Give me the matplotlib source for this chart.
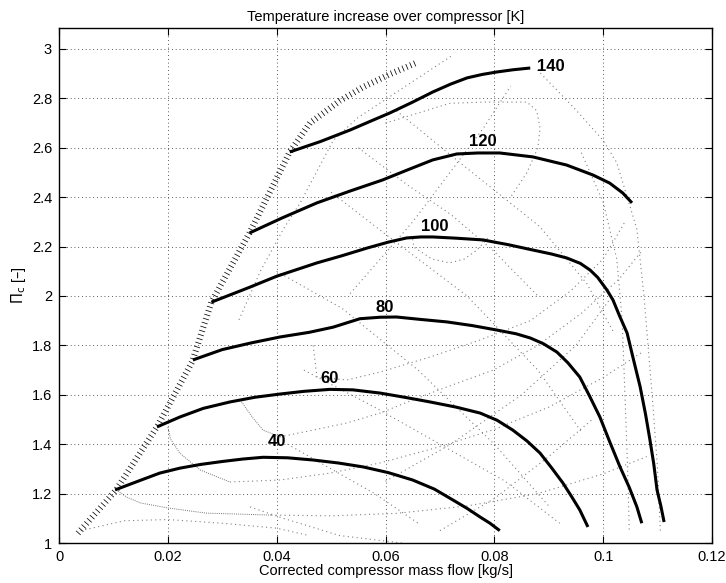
import matplotlib
matplotlib.use("Agg")
import matplotlib.pyplot as plt

plt.rcParams['font.family'] = ['Liberation Sans', 'DejaVu Sans']

# ---- speed lines (temperature increase [K]) ----
speed_labels = ["40", "60", "80", "100", "120", "140"]
label_pos_x = [0.0400, 0.0498, 0.0599, 0.0690, 0.0779, 0.0903]
label_pos_y = [1.409, 1.668, 1.955, 2.283, 2.625, 2.930]

s40_x = [0.0103, 0.0145, 0.0185, 0.0222, 0.026, 0.030, 0.0338, 0.0375, 0.042, 0.0467, 0.0513, 0.0559, 0.0605, 0.065, 0.069, 0.0724, 0.075, 0.0774, 0.0792, 0.081]
s40_y = [1.215, 1.250, 1.283, 1.303, 1.318, 1.330, 1.340, 1.347, 1.345, 1.336, 1.324, 1.308, 1.285, 1.255, 1.218, 1.174, 1.140, 1.105, 1.080, 1.050]
s60_x = [0.018, 0.0222, 0.0265, 0.0314, 0.036, 0.0406, 0.045, 0.0498, 0.054, 0.059, 0.0635, 0.0682, 0.073, 0.0774, 0.0805, 0.0834, 0.086, 0.0884, 0.0905, 0.0926, 0.0942, 0.0957, 0.0972]
s60_y = [1.470, 1.510, 1.545, 1.571, 1.590, 1.603, 1.614, 1.622, 1.620, 1.607, 1.590, 1.571, 1.550, 1.526, 1.497, 1.457, 1.413, 1.364, 1.305, 1.243, 1.188, 1.134, 1.065]
s80_x = [0.0246, 0.030, 0.0353, 0.0406, 0.046, 0.0504, 0.0553, 0.059, 0.062, 0.0665, 0.0713, 0.076, 0.0805, 0.084, 0.0866, 0.089, 0.0915, 0.0935, 0.0957, 0.0975, 0.0994, 0.1012, 0.1031, 0.1048, 0.1062, 0.1071]
s80_y = [1.741, 1.783, 1.810, 1.834, 1.853, 1.874, 1.908, 1.914, 1.915, 1.905, 1.895, 1.880, 1.862, 1.847, 1.830, 1.807, 1.773, 1.730, 1.672, 1.595, 1.510, 1.410, 1.308, 1.225, 1.146, 1.080]
s100_x = [0.028, 0.0315, 0.0351, 0.040, 0.0474, 0.052, 0.0566, 0.0605, 0.0639, 0.0665, 0.0687, 0.073, 0.0779, 0.0825, 0.0871, 0.0905, 0.0933, 0.0958, 0.0976, 0.099, 0.1007, 0.1018, 0.103, 0.1044, 0.1056, 0.1068, 0.1078, 0.1086, 0.1093, 0.1099, 0.1106, 0.1112]
s100_y = [1.975, 2.005, 2.036, 2.080, 2.134, 2.163, 2.194, 2.218, 2.235, 2.239, 2.239, 2.234, 2.227, 2.208, 2.186, 2.170, 2.154, 2.132, 2.105, 2.075, 2.024, 1.984, 1.920, 1.850, 1.740, 1.632, 1.520, 1.417, 1.320, 1.215, 1.150, 1.085]
s120_x = [0.035, 0.041, 0.0474, 0.0535, 0.0595, 0.064, 0.0687, 0.0731, 0.077, 0.081, 0.0871, 0.0933, 0.0981, 0.1012, 0.1036, 0.1053]
s120_y = [2.255, 2.316, 2.377, 2.425, 2.470, 2.510, 2.551, 2.575, 2.579, 2.579, 2.563, 2.530, 2.490, 2.457, 2.417, 2.377]
s140_x = [0.0424, 0.048, 0.0535, 0.0575, 0.0608, 0.065, 0.0687, 0.072, 0.075, 0.0778, 0.0805, 0.0835, 0.0866]
s140_y = [2.583, 2.625, 2.672, 2.710, 2.741, 2.785, 2.826, 2.858, 2.883, 2.897, 2.907, 2.916, 2.923]

# ---- surge line ----
surge_x = [0.0035, 0.0105, 0.018, 0.0245, 0.028, 0.035, 0.0424, 0.0461, 0.0516, 0.0559, 0.061, 0.066]
surge_y = [1.040, 1.215, 1.470, 1.735, 1.975, 2.255, 2.583, 2.700, 2.790, 2.846, 2.900, 2.947]

# ---- thin dotted contour lines ----
d1_x = [0.0105, 0.0125, 0.015, 0.020, 0.027, 0.039]
d1_y = [1.215, 1.185, 1.162, 1.142, 1.121, 1.113]
d2_x = [0.020, 0.0205, 0.0222, 0.0259, 0.0314]
d2_y = [1.470, 1.420, 1.364, 1.296, 1.247]
d3_x = [0.0333, 0.0355, 0.0375, 0.0406]
d3_y = [1.579, 1.510, 1.457, 1.430]

c1_x = [0.039, 0.050, 0.062, 0.075, 0.088, 0.100, 0.108]
c1_y = [1.113, 1.110, 1.120, 1.150, 1.200, 1.280, 1.350]
c2_x = [0.0314, 0.0406, 0.0498, 0.059, 0.070, 0.080, 0.090, 0.100, 0.107]
c2_y = [1.247, 1.255, 1.283, 1.324, 1.390, 1.460, 1.550, 1.670, 1.770]
c3_x = [0.0406, 0.0467, 0.0529, 0.059, 0.065, 0.0713, 0.0798, 0.088, 0.096, 0.103, 0.107]
c3_y = [1.430, 1.457, 1.486, 1.526, 1.579, 1.632, 1.700, 1.800, 1.930, 2.070, 2.180]
c4_x = [0.0467, 0.0474, 0.0529, 0.059, 0.0682, 0.0774, 0.0866, 0.094, 0.100, 0.104]
c4_y = [1.800, 1.672, 1.660, 1.692, 1.753, 1.822, 1.900, 2.020, 2.150, 2.300]
c5_x = [0.065, 0.0652, 0.0685, 0.0718, 0.0745, 0.0768, 0.079]
c5_y = [2.230, 2.198, 2.150, 2.134, 2.150, 2.186, 2.240]
c6_x = [0.060, 0.0718, 0.078, 0.086, 0.0878, 0.0884, 0.088, 0.086, 0.083]
c6_y = [2.700, 2.780, 2.785, 2.785, 2.750, 2.680, 2.600, 2.500, 2.400]
c7_x = [0.0879, 0.0945, 0.100, 0.1025, 0.1062, 0.1075, 0.109, 0.110, 0.1105]
c7_y = [2.915, 2.765, 2.630, 2.540, 2.270, 2.000, 1.600, 1.300, 1.050]
c8_x = [0.096, 0.100, 0.1025, 0.1035, 0.1040, 0.1045, 0.1048]
c8_y = [2.580, 2.380, 2.150, 1.900, 1.600, 1.300, 1.050]
c9_x = [0.072, 0.0548, 0.0504, 0.0443, 0.0412, 0.037, 0.033]
c9_y = [2.970, 2.720, 2.630, 2.376, 2.270, 2.100, 1.900]
c10_x = [0.062, 0.0731, 0.0884, 0.097, 0.102]
c10_y = [2.750, 2.550, 2.280, 2.050, 1.850]
c11_x = [0.0535, 0.065, 0.078, 0.083]
c11_y = [2.010, 2.300, 2.680, 2.850]
c12_x = [0.050, 0.060, 0.075, 0.088, 0.096]
c12_y = [2.420, 2.250, 2.000, 1.700, 1.450]
c13_x = [0.040, 0.052, 0.066, 0.080, 0.090]
c13_y = [2.100, 1.950, 1.700, 1.400, 1.150]
c14_x = [0.0351, 0.0412, 0.0516, 0.063]
c14_y = [1.146, 1.100, 1.030, 1.000]
c15_x = [0.004, 0.012, 0.020, 0.030, 0.040, 0.046]
c15_y = [1.050, 1.090, 1.095, 1.080, 1.060, 1.030]
c16_x = [0.045, 0.058, 0.070, 0.082, 0.092]
c16_y = [1.700, 1.550, 1.400, 1.250, 1.080]
c17_x = [0.060, 0.072, 0.085, 0.095, 0.101]
c17_y = [1.250, 1.400, 1.600, 1.800, 1.980]
c18_x = [0.070, 0.080, 0.090, 0.098]
c18_y = [1.050, 1.180, 1.350, 1.500]
c19_x = [0.042, 0.050, 0.058, 0.066]
c19_y = [1.400, 1.300, 1.200, 1.080]
c20_x = [0.055, 0.064, 0.072, 0.080, 0.088]
c20_y = [2.600, 2.450, 2.330, 2.180, 2.000]

dense = [(d1_x, d1_y), (d2_x, d2_y), (d3_x, d3_y)]
contours = [(c1_x, c1_y), (c2_x, c2_y), (c3_x, c3_y), (c4_x, c4_y), (c5_x, c5_y),
            (c6_x, c6_y), (c7_x, c7_y), (c8_x, c8_y), (c9_x, c9_y), (c10_x, c10_y),
            (c11_x, c11_y), (c12_x, c12_y), (c13_x, c13_y), (c14_x, c14_y),
            (c15_x, c15_y), (c16_x, c16_y), (c17_x, c17_y), (c18_x, c18_y),
            (c19_x, c19_y), (c20_x, c20_y)]

speed_x = [s40_x, s60_x, s80_x, s100_x, s120_x, s140_x]
speed_y = [s40_y, s60_y, s80_y, s100_y, s120_y, s140_y]

xticks = [0, 0.02, 0.04, 0.06, 0.08, 0.1, 0.12]
xticklabels = ["0", "0.02", "0.04", "0.06", "0.08", "0.1", "0.12"]
yticks = [1, 1.2, 1.4, 1.6, 1.8, 2, 2.2, 2.4, 2.6, 2.8, 3]
yticklabels = ["1", "1.2", "1.4", "1.6", "1.8", "2", "2.2", "2.4", "2.6", "2.8", "3"]

fig = plt.figure(figsize=(7.26, 5.83), dpi=100)
ax = fig.add_axes([0.0813, 0.0686, 0.8994, 0.8834])

for cx, cy in contours:
    ax.plot(cx, cy, color='0.5', lw=0.8, linestyle=(0, (1, 3)), zorder=2)
for cx, cy in dense:
    ax.plot(cx, cy, color='0.45', lw=0.7, linestyle=(0, (1, 1.2)), zorder=2)

ax.plot(surge_x, surge_y, color='k', lw=4.5, linestyle=(0, (0.12, 0.55)),
        dash_capstyle='butt', zorder=3)

for sx, sy in zip(speed_x, speed_y):
    ax.plot(sx, sy, color='k', lw=2.2, solid_capstyle='butt',
            solid_joinstyle='round', zorder=4)

for lab, lx, ly in zip(speed_labels, label_pos_x, label_pos_y):
    ax.text(lx, ly, lab, fontsize=12, fontweight='bold', ha='center', va='center', zorder=5)

ax.set_xlim(0, 0.12)
ax.set_ylim(1, 3.085)
ax.set_xticks(xticks)
ax.set_xticklabels(xticklabels)
ax.set_yticks(yticks)
ax.set_yticklabels(yticklabels)
ax.tick_params(direction='in', top=True, right=True, length=5, width=0.8, labelsize=10.5, pad=5)
ax.grid(True, color='0.15', linestyle=(0, (1, 3.5)), lw=0.6)
for sp in ax.spines.values():
    sp.set_linewidth(1.0)

ax.set_title("Temperature increase over compressor [K]", fontsize=10.5, pad=5)
ax.set_xlabel("Corrected compressor mass flow [kg/s]", fontsize=10.5, labelpad=0)
ax.set_ylabel(r"$\Pi_{\rm c}$ [–]", fontsize=10.5, labelpad=3)

fig.savefig("out.png", dpi=100)
